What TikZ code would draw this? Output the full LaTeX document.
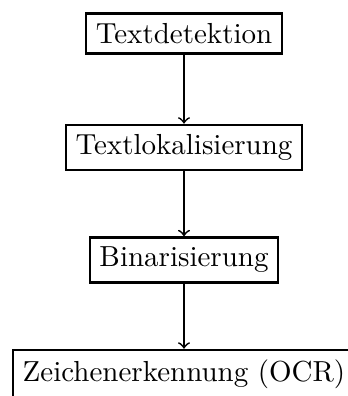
\documentclass[tikz,border=0pt]{standalone}
\begin{document}
\begin{tikzpicture}[x=0.345pt,y=-0.345pt,
  stepbox/.style={draw,line width=0.8pt,rectangle},
  flow/.style={->,line width=0.6pt}]
\useasboundingbox (0,0) rectangle (348,396);
\clip (0,0) rectangle (348,396);
\node[stepbox] (a) at (184,33.5) {Textdetektion};
\node[stepbox] (b) at (184,147.5) {Textlokalisierung};
\node[stepbox] (c) at (184,260) {Binarisierung};
\node[stepbox] (d) at (184,374) {Zeichenerkennung (OCR)};
\draw[flow] (a) -- (b);
\draw[flow] (b) -- (c);
\draw[flow] (c) -- (d);
\end{tikzpicture}
\end{document}
